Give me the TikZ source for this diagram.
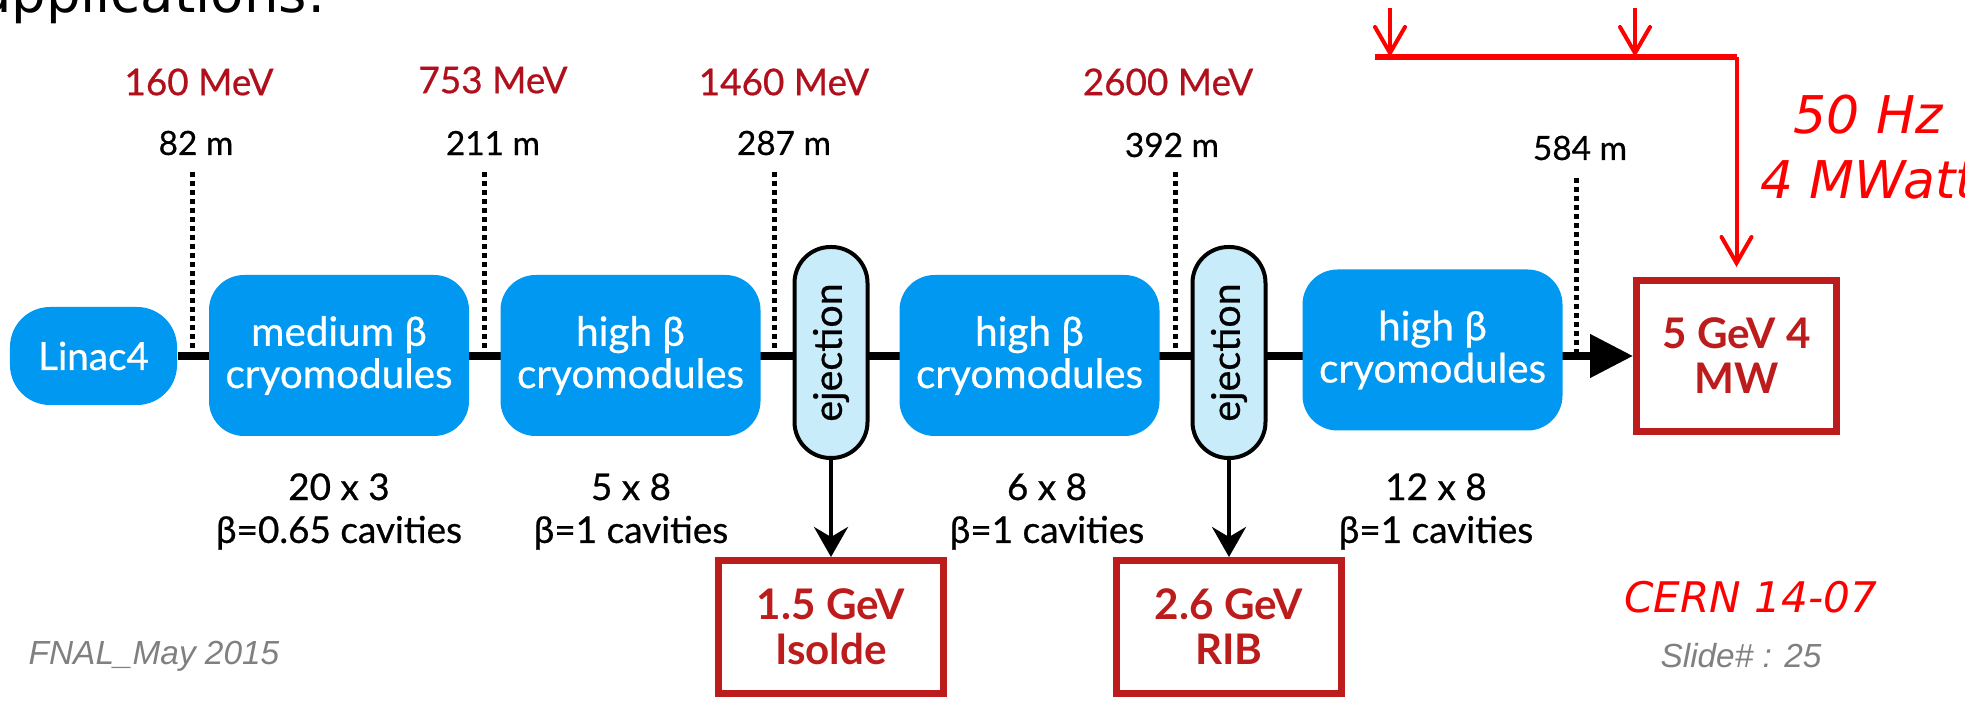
\documentclass[tikz,border=0pt]{standalone}
\usepackage{fontspec}
\setmainfont{Lato}[UprightFeatures={FakeBold=0.6}]
\newfontfamily\handfont{DejaVu Sans}
\newfontfamily\footfont{Liberation Sans}
\usepackage{xcolor}
\usepackage{tikz}
\usetikzlibrary{arrows.meta,backgrounds}
\definecolor{cryoblue}{RGB}{0,152,240}
\definecolor{ejblue}{RGB}{200,236,250}
\definecolor{mevred}{RGB}{176,16,28}
\definecolor{boxred}{RGB}{188,28,28}
\definecolor{footgray}{RGB}{128,128,128}

\begin{document}
\begin{tikzpicture}[
  cryo/.style={rounded corners=3.5mm,fill=cryoblue,text=white,minimum width=2.6cm,minimum height=1.61cm,align=center,inner sep=0pt,font=\fontsize{11.5}{12}\selectfont},
  ej/.style={draw,line width=0.4mm,rounded corners=3.6mm,fill=ejblue,minimum width=0.73cm,minimum height=2.11cm,inner sep=0pt,font=\fontsize{11.2}{12}\selectfont},
  dest/.style={draw=boxred,line width=0.7mm,text=boxred,align=center,inner sep=0pt,font=\fontsize{12}{12.8}\selectfont\bfseries},
  en/.style={text=mevred,font=\fontsize{10.5}{12}\selectfont},
  len/.style={font=\fontsize{9.5}{11}\selectfont},
  cav/.style={align=center,font=\fontsize{10.5}{12.2}\selectfont},
  tick/.style={line width=0.5mm,dash pattern=on 0.5mm off 0.4mm},
  beam/.style={line width=0.8mm},
  drop/.style={line width=0.4mm,-{Stealth[length=3mm,width=3.4mm,inset=1mm]}},
  feed/.style={red,line width=0.4mm,-{Straight Barb[length=2.6mm,width=3mm,line cap=round]}}]
 \useasboundingbox (0,0) rectangle (19.65,-7.02);
 \clip (0,0) rectangle (19.65,-7.02);
 \node[anchor=base east,inner sep=0pt,font=\handfont\fontsize{15.5}{18}\selectfont] (title) at (3.26,-0.13) {applications:};
 \node[cryo,rounded corners=4mm,minimum width=1.67cm,minimum height=0.98cm,font=\fontsize{11}{12}\selectfont] (linac) at (0.935,-3.56) {Linac4};
 \node[cryo] (medium) at (3.39,-3.555) {medium β\\cryomodules};
 \node[cryo] (high1) at (6.305,-3.555) {high β\\cryomodules};
 \node[ej] (ej1) at (8.31,-3.525) {\rotatebox{90}{ejection}};
 \node[cryo] (high2) at (10.295,-3.555) {high β\\cryomodules};
 \node[ej] (ej2) at (12.29,-3.525) {\rotatebox{90}{ejection}};
 \node[cryo] (high3) at (14.325,-3.50) {high β\\cryomodules};
 \node[dest,minimum width=2.0cm,minimum height=1.51cm] (target) at (17.365,-3.56) {5 GeV 4\\MW};
 \node[dest,minimum width=2.25cm,minimum height=1.33cm] (isolde) at (8.31,-6.27) {1.5 GeV\\Isolde};
 \node[dest,minimum width=2.25cm,minimum height=1.33cm] (rib) at (12.29,-6.27) {2.6 GeV\\RIB};
 \begin{scope}[on background layer]
  \draw[beam,-{Triangle[length=4.3mm,width=4.2mm]}] (linac.east) -- (linac.east -| target.west);
 \end{scope}
 \draw[drop] (ej1.south) -- (isolde.north);
 \draw[drop] (ej2.south) -- (rib.north);
 \node[en] (e160) at (1.99,-0.82) {160 MeV};
 \node[en] (e753) at (4.93,-0.80) {753 MeV};
 \node[en] (e1460) at (7.84,-0.82) {1460 MeV};
 \node[en] (e2600) at (11.68,-0.82) {2600 MeV};
 \node[len] (l82) at (1.96,-1.43) {82 m};
 \node[len] (l211) at (4.93,-1.43) {211 m};
 \node[len] (l287) at (7.84,-1.43) {287 m};
 \node[len] (l392) at (11.72,-1.45) {392 m};
 \node[len] (l584) at (15.80,-1.48) {584 m};
 \foreach \n/\x/\y in {t82/1.92/1.72,t211/4.84/1.72,t287/7.74/1.72,t392/11.75/1.72,t584/15.76/1.78} {
   \coordinate (\n) at (\x,-\y);
   \draw[tick] (\n) -- (\n |- linac.east);
 }
 \node[cav] (c1) at (3.39,-5.115) {20 x 3\\β=0.65 cavities};
 \node[cav] (c2) at (6.31,-5.115) {5 x 8\\β=1 cavities};
 \node[cav] (c3) at (10.47,-5.115) {6 x 8\\β=1 cavities};
 \node[cav] (c4) at (14.36,-5.115) {12 x 8\\β=1 cavities};
 \coordinate (inA) at (13.90,-0.08);
 \coordinate (inB) at (16.35,-0.08);
 \coordinate (feedL) at (13.75,-0.57);
 \coordinate (feedR) at (17.365,-0.57);
 \draw[red,line width=0.6mm] (feedL) -- (feedR);
 \draw[feed] (feedR) -- ([yshift=1mm]target.north);
 \foreach \c in {inA,inB} \draw[feed] (\c) -- (\c |- feedL);
 \node[text=red,align=center,inner sep=0pt,font=\handfont\itshape\fontsize{14.8}{18.5}\selectfont] (rate) at (18.68,-1.47) {50 Hz\\4 MWatt};
 \node[text=red,inner sep=0pt,font=\handfont\itshape\fontsize{12}{14}\selectfont] (cern) at (17.51,-5.97) {CERN 14-07};
 \node[text=footgray,inner sep=0pt,font=\footfont\itshape\fontsize{9.5}{11}\selectfont] (date) at (1.54,-6.56) {FNAL\_May 2015};
 \node[text=footgray,inner sep=0pt,font=\footfont\itshape\fontsize{9.5}{11}\selectfont] (slide) at (17.41,-6.56) {Slide\# : 25};
\end{tikzpicture}
\end{document}
